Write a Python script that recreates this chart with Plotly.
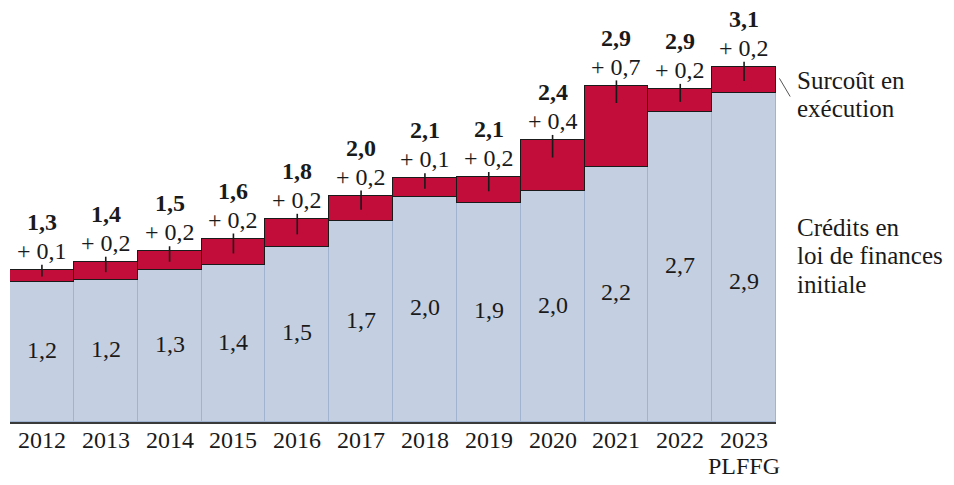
import plotly.graph_objects as go

# data (billions)
years = ["2012", "2013", "2014", "2015", "2016", "2017", "2018", "2019", "2020", "2021", "2022", "2023"]
tick_labels = ["2012", "2013", "2014", "2015", "2016", "2017", "2018", "2019", "2020", "2021", "2022", "2023"]
last_note = "PLFFG"
lfi_credits = [1.21, 1.22, 1.31, 1.35, 1.51, 1.73, 1.94, 1.89, 1.99, 2.20, 2.67, 2.84]
overrun = [0.10, 0.16, 0.16, 0.23, 0.24, 0.22, 0.16, 0.22, 0.44, 0.70, 0.20, 0.22]
lfi_labels = ["1,2", "1,2", "1,3", "1,4", "1,5", "1,7", "2,0", "1,9", "2,0", "2,2", "2,7", "2,9"]
overrun_labels = ["+ 0,1", "+ 0,2", "+ 0,2", "+ 0,2", "+ 0,2", "+ 0,2", "+ 0,1", "+ 0,2", "+ 0,4", "+ 0,7", "+ 0,2", "+ 0,2"]
total_labels = ["1,3", "1,4", "1,5", "1,6", "1,8", "2,0", "2,1", "2,1", "2,4", "2,9", "2,9", "3,1"]

FONT = "Liberation Serif"
BLUE = "rgb(196,207,225)"
BLUE_EDGE = "rgb(160,180,210)"
RED = "rgb(194,12,58)"
INK = "#1a1a1a"

totals = [a + b for a, b in zip(lfi_credits, overrun)]

fig = go.Figure()
fig.add_trace(go.Bar(
    x=years, y=lfi_credits,
    marker=dict(color=BLUE, line=dict(color=BLUE_EDGE, width=1)),
    hoverinfo="skip"
))
fig.add_trace(go.Bar(
    x=years, y=overrun,
    marker=dict(color=RED, line=dict(color=INK, width=1.3)),
    hoverinfo="skip"
))

# small vertical tick crossing the top of each red block
fig.add_trace(go.Scatter(
    x=years, y=totals, mode="markers",
    marker=dict(size=0.1, color=INK),
    error_y=dict(type="data", symmetric=False,
                 array=[0.045] * len(years),
                 arrayminus=[min(0.55 * o, 0.15) for o in overrun],
                 width=0, thickness=1.6, color=INK),
    hoverinfo="skip"
))

def txt_font(size=24):
    return dict(size=size, color=INK, family=FONT)

annotations = []
for i, yr in enumerate(years):
    # category axis: annotations are placed by category index
    mid_shift = -26 if i == len(years) - 1 else 0
    annotations.append(dict(x=i, y=lfi_credits[i] / 2, text=lfi_labels[i], showarrow=False,
                            yshift=mid_shift + 2, font=txt_font()))
    annotations.append(dict(x=i, y=totals[i], text=overrun_labels[i], showarrow=False,
                            yanchor="middle", yshift=19, font=txt_font()))
    annotations.append(dict(x=i, y=totals[i], text="<b>" + total_labels[i] + "</b>", showarrow=False,
                            yanchor="middle", yshift=48, height=24, font=txt_font()))
    # year labels under the axis
    annotations.append(dict(x=i, y=0, text=tick_labels[i], showarrow=False,
                            yanchor="middle", yshift=-18, font=txt_font()))

annotations.append(dict(x=len(years) - 1, y=0, text=last_note, showarrow=False,
                        yanchor="middle", yshift=-44, font=txt_font()))

side_lines = [("Surcoût en", 0.830), ("exécution", 0.762),
              ("Crédits en", 0.473), ("loi de finances", 0.403), ("initiale", 0.333)]
for txt, yp in side_lines:
    annotations.append(dict(xref="paper", yref="paper", x=1.0245, y=yp, text=txt, showarrow=False,
                            xanchor="left", yanchor="middle", font=txt_font(25)))

# the page body adds an 8px offset, so the figure is sized to fit the window
fig.update_layout(
    width=946, height=477,
    margin=dict(l=2, r=178, t=2, b=63, autoexpand=False),
    barmode="stack", bargap=0,
    showlegend=False,
    plot_bgcolor="white", paper_bgcolor="white",
    font=dict(family=FONT, size=24, color=INK),
    annotations=annotations,
    shapes=[dict(type="line", xref="paper", yref="paper",
                 x0=1.0045, y0=0.834, x1=1.0185, y1=0.790,
                 line=dict(color="#555555", width=1))]
)
fig.update_xaxes(
    type="category", showticklabels=False, ticks="", showgrid=False,
    showline=True, linecolor="#3a3a3a", linewidth=2, range=[-0.5, 11.5]
)
fig.update_yaxes(range=[0, 3.552], showticklabels=False, showgrid=False, zeroline=False)

fig.write_html("out.html")
